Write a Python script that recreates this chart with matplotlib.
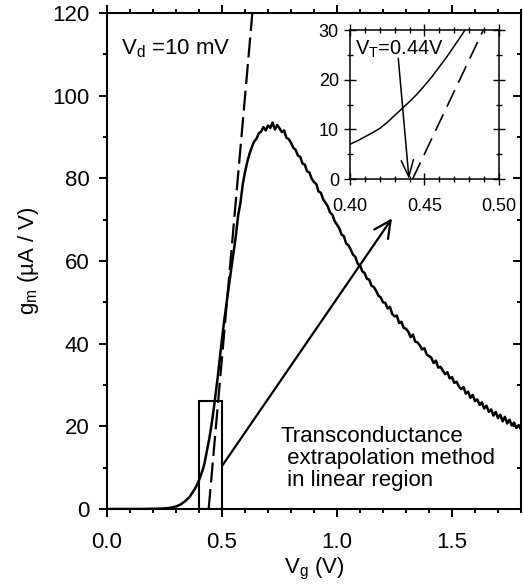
import matplotlib
matplotlib.use("Agg")
import matplotlib.pyplot as plt
from matplotlib.patches import Rectangle
from matplotlib.ticker import MultipleLocator, FormatStrFormatter

plt.rcParams['font.family'] = ['Liberation Sans', 'DejaVu Sans']
plt.rcParams['mathtext.default'] = 'regular'

# ---------------- data ----------------
vg = [0.00, 0.05, 0.10, 0.15, 0.20, 0.24, 0.27, 0.30, 0.32, 0.34, 0.36, 0.38,
      0.385, 0.39, 0.395, 0.40, 0.405, 0.41, 0.415, 0.42, 0.425, 0.43, 0.435,
      0.44, 0.445, 0.45, 0.455, 0.46, 0.465, 0.47, 0.475, 0.48, 0.485, 0.49,
      0.495, 0.50, 0.51, 0.52, 0.53, 0.54, 0.55, 0.56, 0.57, 0.58, 0.59, 0.60,
      0.61, 0.62, 0.63, 0.64, 0.65, 0.66, 0.67, 0.68, 0.69, 0.70, 0.71, 0.72,
      0.73, 0.74, 0.75, 0.76, 0.77, 0.78, 0.79, 0.80, 0.81, 0.82, 0.83, 0.84,
      0.85, 0.86, 0.87, 0.88, 0.89, 0.90, 0.91, 0.92, 0.93, 0.94, 0.95, 0.96,
      0.97, 0.98, 0.99, 1.00, 1.01, 1.02, 1.03, 1.04, 1.05, 1.06, 1.07, 1.08,
      1.09, 1.10, 1.11, 1.12, 1.13, 1.14, 1.15, 1.16, 1.17, 1.18, 1.19, 1.20,
      1.21, 1.22, 1.23, 1.24, 1.25, 1.26, 1.27, 1.28, 1.29, 1.30, 1.31, 1.32,
      1.33, 1.34, 1.35, 1.36, 1.37, 1.38, 1.39, 1.40, 1.41, 1.42, 1.43, 1.44,
      1.45, 1.46, 1.47, 1.48, 1.49, 1.50, 1.51, 1.52, 1.53, 1.54, 1.55, 1.56,
      1.57, 1.58, 1.59, 1.60, 1.61, 1.62, 1.63, 1.64, 1.65, 1.66, 1.67, 1.68,
      1.69, 1.70, 1.71, 1.72, 1.73, 1.74, 1.75, 1.76, 1.77, 1.78, 1.79, 1.80]
gm = [0.0, 0.0, 0.0, 0.0, 0.05, 0.1, 0.25, 0.6, 1.1, 1.9, 3.0, 4.7,
      5.2, 5.7, 6.3, 7.0, 7.7, 8.5, 9.3, 10.2, 11.4, 12.8, 14.2,
      15.6, 17.1, 18.8, 20.6, 22.6, 24.6, 26.8, 29.0, 31.3, 33.7, 36.2,
      38.7, 41.2, 45.8, 50.0, 54.0, 58.0, 62.0, 66.0, 71.0, 74.0, 78.5, 81.5,
      84.0, 86.0, 87.6, 88.9, 89.6, 90.9, 91.3, 92.4, 91.6, 92.8, 92.2, 93.5,
      91.8, 92.9, 92.1, 91.2, 91.6, 89.8, 89.5, 88.6, 87.4, 86.9, 85.5, 85.2,
      83.6, 83.3, 81.7, 81.4, 79.9, 79.1, 78.6, 76.8, 76.5, 74.9, 74.1, 73.2,
      71.7, 71.2, 69.6, 68.8, 67.9, 66.4, 66.0, 64.2, 63.8, 62.7, 61.5, 61.0,
      59.3, 59.0, 57.5, 57.1, 55.7, 55.5, 54.0, 53.7, 52.8, 51.6, 51.2, 50.0,
      49.9, 48.5, 48.9, 47.2, 46.6, 46.8, 45.0, 45.3, 43.8, 43.6, 42.9, 41.6,
      42.2, 40.5, 40.3, 39.6, 38.6, 38.9, 37.4, 37.0, 36.6, 35.3, 35.9, 34.2,
      34.4, 33.5, 32.6, 33.1, 31.6, 31.9, 30.5, 30.8, 29.6, 29.0, 29.5, 27.9,
      28.4, 26.9, 27.6, 26.1, 26.5, 25.2, 25.8, 24.3, 25.0, 23.5, 24.1, 22.6,
      23.5, 22.0, 22.8, 21.2, 22.3, 20.7, 21.6, 20.2, 20.9, 19.6, 20.3, 19.2]

tangent_x = [0.442, 0.632]
tangent_y = [0.0, 120.0]

box_x = [0.40, 0.50]
box_y = [0.0, 26.1]

arrow_start = (0.50, 10.4)
arrow_end = (1.239, 70.3)

vt_arrow_start = (0.4324, 24.3)
vt_arrow_end = (0.4396, 0.0)

main_xticks = [0.0, 0.5, 1.0, 1.5]
main_yticks = [0, 20, 40, 60, 80, 100, 120]
inset_xticks = [0.40, 0.45, 0.50]
inset_yticks = [0, 10, 20, 30]

# ---------------- figure ----------------
fig = plt.figure(figsize=(5.23, 5.86), dpi=100)
ax = fig.add_axes([0.2046, 0.1314, 0.7916, 0.8464])

ax.plot(vg, gm, color='black', lw=1.8)
ax.plot(tangent_x, tangent_y, color='black', lw=1.6, ls=(0, (9, 3)))
ax.add_patch(Rectangle((box_x[0], box_y[0]), box_x[1] - box_x[0], box_y[1] - box_y[0],
                       fill=False, ec='black', lw=1.5))
ax.annotate('', xy=arrow_end, xytext=arrow_start,
            arrowprops=dict(arrowstyle='->,head_length=0.6,head_width=0.3', lw=1.6,
                            color='black', shrinkA=0, shrinkB=0, mutation_scale=20))

ax.set_xlim(0, 1.8)
ax.set_ylim(0, 120)
ax.set_xticks(main_xticks)
ax.set_yticks(main_yticks)
ax.xaxis.set_major_formatter(FormatStrFormatter('%.1f'))
ax.xaxis.set_minor_locator(MultipleLocator(0.1))
ax.yaxis.set_minor_locator(MultipleLocator(10))
for s in ax.spines.values():
    s.set_linewidth(1.5)
ax.tick_params(which='both', direction='out', width=1.4, labelsize=16,
               top=True, right=False)
ax.tick_params(which='major', length=5.5)
ax.tick_params(which='minor', length=3)
ax.tick_params(axis='x', which='major', pad=11)
ax.tick_params(axis='y', which='major', pad=7)
ax.tick_params(axis='y', which='both', right=True)
# right ticks inward
for t in ax.yaxis.get_major_ticks() + ax.yaxis.get_minor_ticks():
    t.tick2line.set_marker(0)

ax.set_xlabel(r'$V_g$ (V)', fontsize=16, labelpad=2)
ax.set_ylabel(r'$g_m$ (µA / V)', fontsize=16, labelpad=8)

ax.text(0.06, 110, r'$V_d$ =10 mV', fontsize=16, ha='left', va='baseline')
ax.text(0.756, 20.0, 'Transconductance\n extrapolation method\n in linear region',
        fontsize=16, ha='left', va='top', linespacing=1.05)

# ---------------- inset ----------------
ins = fig.add_axes([0.6692, 0.6945, 0.2849, 0.2543])
ins.plot(vg, gm, color='black', lw=1.1)
ins.plot(tangent_x, tangent_y, color='black', lw=1.2, ls=(0, (11, 5)))
ins.annotate('', xy=vt_arrow_end, xytext=vt_arrow_start,
             arrowprops=dict(arrowstyle='->,head_length=0.6,head_width=0.22', lw=1.1,
                             color='black', shrinkA=0, shrinkB=0, mutation_scale=20))
ins.text(0.4033, 25.0, r'$V_T$=0.44V', fontsize=14.5, ha='left', va='baseline')
ins.set_xlim(0.40, 0.50)
ins.set_ylim(0, 30)
ins.set_xticks(inset_xticks)
ins.set_yticks(inset_yticks)
ins.xaxis.set_major_formatter(FormatStrFormatter('%.2f'))
ins.xaxis.set_minor_locator(MultipleLocator(0.01))
ins.yaxis.set_minor_locator(MultipleLocator(5))
for s in ins.spines.values():
    s.set_linewidth(1.1)
ins.tick_params(which='both', direction='inout', width=1.0, labelsize=13,
                top=True, right=True)
ins.tick_params(which='major', length=8)
ins.tick_params(which='minor', length=4.5)
ins.tick_params(axis='x', pad=10)
ins.tick_params(axis='y', pad=4)

fig.savefig('out.png', dpi=100)
